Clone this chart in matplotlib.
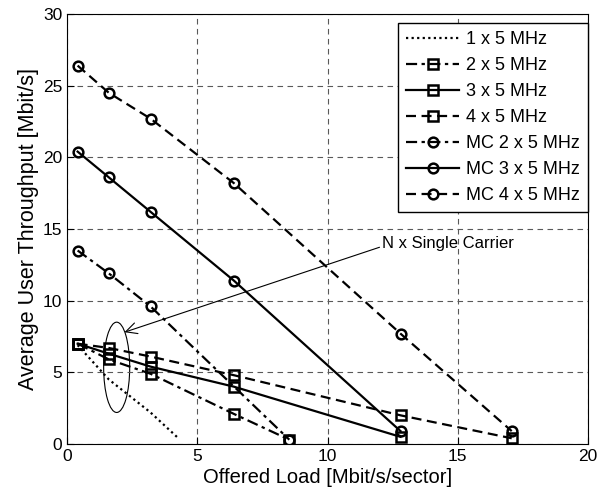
import matplotlib.pyplot as plt
from matplotlib.patches import Ellipse

plt.rcParams['font.family'] = ['Liberation Sans', 'DejaVu Sans']

# données
x_1 = [0.4, 1.6, 3.2, 4.27]
y_1 = [6.9, 4.5, 2.2, 0.4]

x_2 = [0.4, 1.6, 3.2, 6.4, 8.53]
y_2 = [7.0, 5.9, 4.9, 2.1, 0.3]

x_3 = [0.4, 1.6, 3.2, 6.4, 12.8]
y_3 = [7.0, 6.3, 5.4, 4.0, 0.5]

x_4 = [0.4, 1.6, 3.2, 6.4, 12.8, 17.07]
y_4 = [7.0, 6.7, 6.1, 4.8, 2.0, 0.4]

x_mc2 = [0.4, 1.6, 3.2, 8.53]
y_mc2 = [13.5, 11.9, 9.6, 0.3]

x_mc3 = [0.4, 1.6, 3.2, 6.4, 12.8]
y_mc3 = [20.4, 18.6, 16.2, 11.4, 0.9]

x_mc4 = [0.4, 1.6, 3.2, 6.4, 12.8, 17.07]
y_mc4 = [26.4, 24.5, 22.7, 18.2, 7.7, 0.9]

fig = plt.figure(figsize=(6, 5), dpi=100)
ax = fig.add_axes([0.112, 0.112, 0.868, 0.86])

sq = dict(marker="s", ms=7.5, mfc="none", mew=1.8, color="k", lw=1.6)
ci = dict(marker="o", ms=7, mfc="none", mew=1.8, color="k", lw=1.6)
dashdot = (0, (5, 2, 1.5, 2))
dashed = (0, (4.5, 2.5))

ax.plot(x_1, y_1, linestyle=(0, (1, 1.5)), color="k", lw=1.6, label="1 x 5 MHz")
ax.plot(x_2, y_2, linestyle=dashdot, label="2 x 5 MHz", **sq)
ax.plot(x_3, y_3, linestyle="-", label="3 x 5 MHz", **sq)
ax.plot(x_4, y_4, linestyle=dashed, label="4 x 5 MHz", **sq)
ax.plot(x_mc2, y_mc2, linestyle=dashdot, label="MC 2 x 5 MHz", **ci)
ax.plot(x_mc3, y_mc3, linestyle="-", label="MC 3 x 5 MHz", **ci)
ax.plot(x_mc4, y_mc4, linestyle=dashed, label="MC 4 x 5 MHz", **ci)

# ellipse + flèche pour les porteuses simples
ax.add_patch(Ellipse((1.9, 5.35), 1.0, 6.3, fill=False, color="k", lw=0.8))
ax.annotate("N x Single Carrier", xy=(2.2, 7.8), xytext=(12.1, 14.0),
            fontsize=12, va="center", ha="left",
            arrowprops=dict(arrowstyle="->", color="k", lw=0.8,
                            shrinkA=0, shrinkB=0, mutation_scale=20,
                            relpos=(0, 0.3)))

ax.set_xlim(0, 20)
ax.set_ylim(0, 30)
ax.set_xticks([0, 5, 10, 15, 20])
ax.set_yticks([0, 5, 10, 15, 20, 25, 30])
ax.tick_params(labelsize=12.5, direction="in", length=5)
ax.set_xlabel("Offered Load [Mbit/s/sector]", fontsize=14.5, labelpad=3)
ax.set_ylabel("Average User Throughput [Mbit/s]", fontsize=15.5, labelpad=3)
ax.grid(True, linestyle=(0, (5, 4)), color="0.35", lw=0.8)

leg = ax.legend(loc="upper right", bbox_to_anchor=(1.0, 0.979), fontsize=13,
                handlelength=2.9, fancybox=False, framealpha=1, edgecolor="k",
                borderaxespad=0, labelspacing=0.5, handletextpad=0.4,
                borderpad=0.45)
leg.get_frame().set_linewidth(1.0)

plt.savefig("out.png")
